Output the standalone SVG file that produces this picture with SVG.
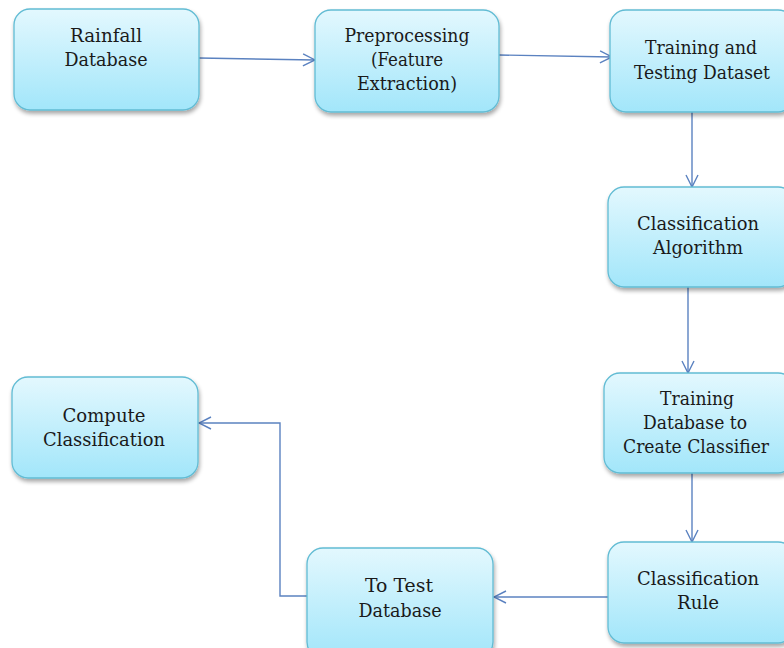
<svg xmlns="http://www.w3.org/2000/svg" width="784" height="648" viewBox="0 0 784 648">
<defs>
<linearGradient id="g" x1="0" y1="0" x2="0" y2="1">
<stop offset="0" stop-color="#e3f8fe"/>
<stop offset="1" stop-color="#a2e6fa"/>
</linearGradient>
<filter id="sh" x="-10%" y="-10%" width="125%" height="130%">
<feGaussianBlur in="SourceAlpha" stdDeviation="2"/>
<feOffset dx="1" dy="3"/>
<feComponentTransfer><feFuncA type="linear" slope="0.35"/></feComponentTransfer>
<feMerge><feMergeNode/><feMergeNode in="SourceGraphic"/></feMerge>
</filter>
<marker id="ah" viewBox="0 0 14 14" refX="13" refY="7" markerWidth="14" markerHeight="14" markerUnits="userSpaceOnUse" orient="auto">
<path d="M1,1 L13,7 L1,13" fill="none" stroke="#5b82c0" stroke-width="1.4"/>
</marker>
</defs>
<style>
.box{fill:url(#g);stroke:#62bcd4;stroke-width:1.3;filter:url(#sh)}
.t{font-family:"DejaVu Serif",serif;font-size:19px;fill:#1a1a1a;text-anchor:middle}
.c{fill:none;stroke:#5b82c0;stroke-width:1.4}
</style>
<rect width="784" height="648" fill="#ffffff"/>
<g id="connectors">
<path class="c" d="M199,58 L315,60" marker-end="url(#ah)"/>
<path class="c" d="M499,55 L612,57" marker-end="url(#ah)"/>
<path class="c" d="M692,112 L692,187" marker-end="url(#ah)"/>
<path class="c" d="M688,287 L688,373" marker-end="url(#ah)"/>
<path class="c" d="M692,473 L692,542" marker-end="url(#ah)"/>
<path class="c" d="M608,597 L494,597" marker-end="url(#ah)"/>
<path class="c" d="M307,596 L280,596 L280,423 L199,423" marker-end="url(#ah)"/>
</g>
<g id="n1">
<rect class="box" x="14" y="9" width="185" height="101" rx="16"/>
<text class="t" x="106" y="42" textLength="72" lengthAdjust="spacingAndGlyphs">Rainfall</text>
<text class="t" x="106" y="66" textLength="83" lengthAdjust="spacingAndGlyphs">Database</text>
</g>
<g id="n2">
<rect class="box" x="315" y="10" width="184" height="102" rx="16"/>
<text class="t" x="407" y="42" textLength="125" lengthAdjust="spacingAndGlyphs">Preprocessing</text>
<text class="t" x="407" y="66" textLength="72" lengthAdjust="spacingAndGlyphs">(Feature</text>
<text class="t" x="407" y="90" textLength="100" lengthAdjust="spacingAndGlyphs">Extraction)</text>
</g>
<g id="n3">
<rect class="box" x="610" y="10" width="184" height="102" rx="16"/>
<text class="t" x="701" y="54" textLength="112" lengthAdjust="spacingAndGlyphs">Training and</text>
<text class="t" x="702" y="79" textLength="136" lengthAdjust="spacingAndGlyphs">Testing Dataset</text>
</g>
<g id="n4">
<rect class="box" x="608" y="187" width="186" height="100" rx="16"/>
<text class="t" x="698" y="230" textLength="122" lengthAdjust="spacingAndGlyphs">Classification</text>
<text class="t" x="698" y="254" textLength="90" lengthAdjust="spacingAndGlyphs">Algorithm</text>
</g>
<g id="n5">
<rect class="box" x="604" y="373" width="190" height="100" rx="16"/>
<text class="t" x="697" y="405" textLength="74" lengthAdjust="spacingAndGlyphs">Training</text>
<text class="t" x="695" y="429" textLength="104" lengthAdjust="spacingAndGlyphs">Database to</text>
<text class="t" x="696" y="453" textLength="146" lengthAdjust="spacingAndGlyphs">Create Classifier</text>
</g>
<g id="n6">
<rect class="box" x="608" y="542" width="186" height="101" rx="16"/>
<text class="t" x="698" y="585" textLength="122" lengthAdjust="spacingAndGlyphs">Classification</text>
<text class="t" x="698" y="609" textLength="42" lengthAdjust="spacingAndGlyphs">Rule</text>
</g>
<g id="n7">
<rect class="box" x="12" y="377" width="186" height="101" rx="16"/>
<text class="t" x="104" y="422" textLength="83" lengthAdjust="spacingAndGlyphs">Compute</text>
<text class="t" x="104" y="446" textLength="122" lengthAdjust="spacingAndGlyphs">Classification</text>
</g>
<g id="n8">
<rect class="box" x="307" y="548" width="186" height="110" rx="16"/>
<text class="t" x="399" y="592" textLength="68" lengthAdjust="spacingAndGlyphs">To Test</text>
<text class="t" x="400" y="617" textLength="83" lengthAdjust="spacingAndGlyphs">Database</text>
</g>
</svg>
